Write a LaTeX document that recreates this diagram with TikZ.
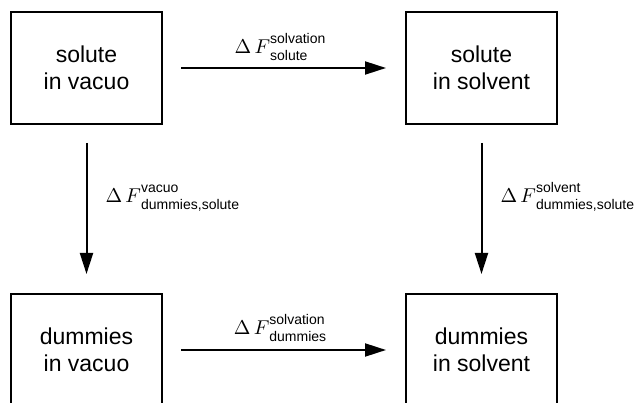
\documentclass[tikz,border=0pt]{standalone}
\usepackage{fontspec}
\setmainfont{Liberation Sans}
\usetikzlibrary{arrows.meta}

% Computer Modern faces for the Delta F symbol
\font\dfrm=cmr10 at 20pt
\font\dfmi=cmmi10 at 20pt

\tikzset{
  statebox/.style={draw, line width=2pt, minimum width=151pt, minimum height=112pt,
    align=center, font=\fontsize{23}{26.5}\selectfont},
  trans/.style={line width=2pt, -{Triangle[length=21pt,width=13pt]},
    shorten <=18pt, shorten >=19pt},
  dF/.style={font=\fontsize{20}{24}\selectfont, inner sep=0pt}
}
% Delta F with stacked sans scripts
\newcommand\dfree[2]{{\dfrm\char1}\kern3.3pt{\dfmi F\/}\raisebox{-7pt}{\fontsize{14}{17}\selectfont
  \begin{tabular}[b]{@{}l@{}}#1\\#2\end{tabular}}}

\begin{document}
\begin{tikzpicture}[x=1pt,y=1pt]
\useasboundingbox (0,0) rectangle (635,402);
\clip (0,0) rectangle (635,402);

% the four states
\node[statebox] (sv) at (86.5,334) {solute\\in vacuo};
\node[statebox] (ss) at (481.5,334) {solute\\in solvent};
\node[statebox] (dv) at (86.5,52) {dummies\\in vacuo};
\node[statebox] (ds) at (481.5,52) {dummies\\in solvent};

% free energy legs of the cycle
\draw[trans] (sv) -- node[dF,anchor=base,xshift=-4pt,yshift=14pt] {\dfree{solvation}{solute}} (ss);
\draw[trans] (dv) -- node[dF,anchor=base,xshift=-4pt,yshift=15pt] {\dfree{solvation}{dummies}} (ds);
\draw[trans] (sv) -- node[dF,anchor=base west,xshift=18pt,yshift=6pt] {\dfree{vacuo}{dummies,solute}} (dv);
\draw[trans] (ss) -- node[dF,anchor=base west,xshift=18pt,yshift=6pt] {\dfree{solvent}{dummies,solute}} (ds);
\end{tikzpicture}
\end{document}
